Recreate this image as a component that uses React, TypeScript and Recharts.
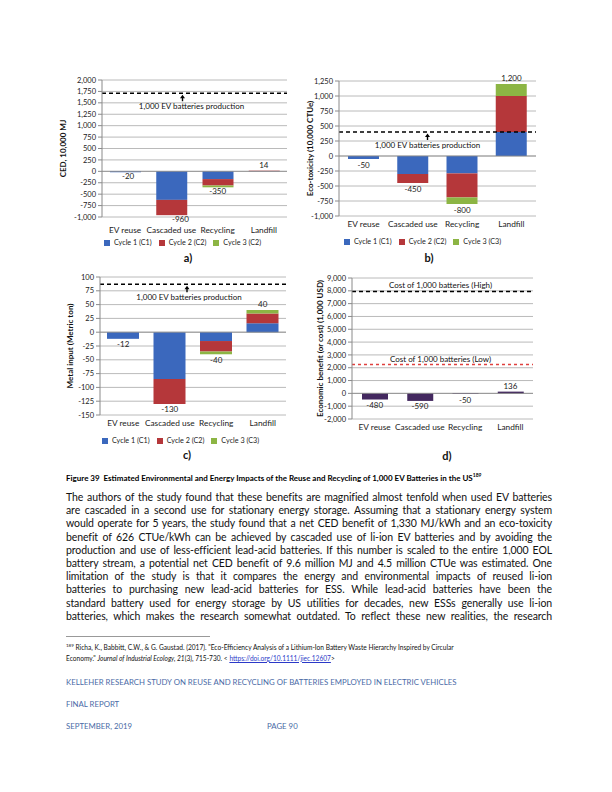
import React from 'react';
import {
  ComposedChart,
  Bar,
  Line,
  XAxis,
  YAxis,
  CartesianGrid,
  ReferenceLine,
  Legend,
  LabelList,
} from 'recharts';

const categories = ['EV reuse', 'Cascaded use', 'Recycling', 'Landfill'];

// a) CED, 10,000 MJ
const cedC1 = [-20, -625, -170, 4];
const cedC2 = [0, -335, -140, 10];
const cedC3 = [0, 0, -40, 0];
const cedTotals = [-20, -960, -350, 14];
const cedTicks = [-1000, -750, -500, -250, 0, 250, 500, 750, 1000, 1250, 1500, 1750, 2000];
const cedProduction = 1710;

// b) Eco-toxicity, 10,000 CTUe
const toxC1 = [-50, -300, -290, 400];
const toxC2 = [0, -150, -400, 600];
const toxC3 = [0, 0, -110, 200];
const toxTotals = [-50, -450, -800, 1200];
const toxTicks = [-1000, -750, -500, -250, 0, 250, 500, 750, 1000, 1250];
const toxProduction = 400;

// c) Metal input, metric ton
const metalC1 = [-12, -85, -16, 16];
const metalC2 = [0, -45, -19, 18];
const metalC3 = [0, 0, -5, 6];
const metalTotals = [-12, -130, -40, 40];
const metalTicks = [-150, -125, -100, -75, -50, -25, 0, 25, 50, 75, 100];
const metalProduction = 87;

// d) Economic benefit (or cost), 1,000 USD
const econValues = [-480, -590, -50, 136];
const econTicks = [-2000, -1000, 0, 1000, 2000, 3000, 4000, 5000, 6000, 7000, 8000, 9000];
const costHigh = 7950;
const costLow = 2250;

const BLUE = '#3b68bd';
const RED = '#b5373a';
const GREEN = '#8cb544';
const PURPLE = '#43285f';
const FONT = 'Lato, "Open Sans", sans-serif';

const fmt = (v: number) => v.toLocaleString('en-US');

const stackRows = (c1: number[], c2: number[], c3: number[], totals: number[]) =>
  categories.map((name, i) => ({ name, c1: c1[i], c2: c2[i], c3: c3[i], total: totals[i] }));

const cedData = stackRows(cedC1, cedC2, cedC3, cedTotals);
const toxData = stackRows(toxC1, toxC2, toxC3, toxTotals);
const metalData = stackRows(metalC1, metalC2, metalC3, metalTotals);
const econData = categories.map((name, i) => ({ name, c1: econValues[i], total: econValues[i] }));

// total value label under (negative) or over (positive) the stack end
const totalLabel = (negOffset: number, shiftX: number[]) => (props: any) => {
  const { x, y, value, index } = props;
  const below = value < 0;
  return (
    <text
      x={x + (shiftX[index] || 0)}
      y={below ? y + negOffset : y - 6}
      textAnchor="middle"
      dominantBaseline="central"
      fontSize={8}
      fontFamily={FONT}
      fill="#222"
    >
      {fmt(value)}
    </text>
  );
};

// dashed production line label: text below, arrow pointing up to the line
const arrowLabel = (dx: number, arrowDx: number) => (props: any) => {
  const { viewBox } = props;
  const cx = viewBox.x + viewBox.width / 2 + dx;
  const y = viewBox.y;
  const ax = cx + arrowDx;
  return (
    <g>
      <line x1={ax} y1={y + 4} x2={ax} y2={y + 8} stroke="#000" strokeWidth={1.4} />
      <polygon points={`${ax - 2.5},${y + 5} ${ax + 2.5},${y + 5} ${ax},${y + 1.5}`} fill="#000" />
      <text x={cx} y={y + 12.5} textAnchor="middle" dominantBaseline="central" fontSize={8} fontFamily={FONT} fill="#111">
        1,000 EV batteries production
      </text>
    </g>
  );
};

const aboveLabel = (text: string, dx: number) => (props: any) => {
  const { viewBox } = props;
  return (
    <text
      x={viewBox.x + viewBox.width / 2 + dx}
      y={viewBox.y - 6}
      textAnchor="middle"
      dominantBaseline="central"
      fontSize={8}
      fontFamily={FONT}
      fill="#111"
    >
      {text}
    </text>
  );
};

type Series = { key: string; name: string; color: string };

type PanelProps = {
  data: any[];
  series: Series[];
  ticks: number[];
  yLabel: string;
  yLabelOffset: number;
  left: number;
  top: number;
  width: number;
  height: number;
  margin: { top: number; right: number; left: number; bottom: number };
  yAxisWidth: number;
  barSize: number;
  legendCenter?: number;
  catTickSize?: number;
  negOffset?: number;
  shiftX?: number[];
  children?: React.ReactNode;
};

function Panel(p: PanelProps) {
  return (
    <div style={{ position: 'absolute', left: p.left, top: p.top }}>
      <ComposedChart width={p.width} height={p.height} data={p.data} margin={p.margin}>
        <CartesianGrid vertical={false} stroke="#a8a8a8" strokeWidth={0.8} />
        <XAxis
          dataKey="name"
          axisLine={false}
          tickLine={false}
          tickSize={p.catTickSize ?? 3}
          height={20}
          tick={{ fontSize: 8.3, fontFamily: FONT, fill: '#222' }}
          interval={0}
        />
        <YAxis
          type="number"
          domain={[p.ticks[0], p.ticks[p.ticks.length - 1]]}
          ticks={p.ticks}
          interval={0}
          width={p.yAxisWidth}
          tickFormatter={fmt}
          axisLine={{ stroke: '#8a8a8a' }}
          tickLine={{ stroke: '#8a8a8a' }}
          tickSize={4}
          tick={{ fontSize: 7.5, fontFamily: FONT, fill: '#222' }}
          label={{
            value: p.yLabel,
            angle: -90,
            position: 'insideLeft',
            offset: p.yLabelOffset,
            style: { textAnchor: 'middle', fontSize: 8, fontWeight: 700, fontFamily: FONT, fill: '#111' },
          }}
        />
        <ReferenceLine y={0} stroke="#8a8a8a" strokeWidth={0.8} />
        {p.series.map((s) => (
          <Bar
            key={s.key}
            dataKey={s.key}
            name={s.name}
            stackId="a"
            fill={s.color}
            barSize={p.barSize}
            isAnimationActive={false}
          />
        ))}
        <Line
          dataKey="total"
          stroke="none"
          dot={false}
          activeDot={false}
          legendType="none"
          isAnimationActive={false}
        >
          <LabelList dataKey="total" content={totalLabel(p.negOffset ?? 5.5, p.shiftX ?? [])} />
        </Line>
        {p.children}
        {p.legendCenter !== undefined && (
          <Legend
            verticalAlign="bottom"
            iconType="square"
            iconSize={6}
            formatter={(value: any) => <span style={{ color: '#222' }}>{value}</span>}
            wrapperStyle={{
              left: p.legendCenter - 90,
              width: 180,
              textAlign: 'center',
              fontSize: 7.2,
              fontFamily: FONT,
              lineHeight: '12px',
            }}
          />
        )}
      </ComposedChart>
    </div>
  );
}

const seriesA: Series[] = [
  { key: 'c1', name: 'Cycle 1 (C1)', color: BLUE },
  { key: 'c2', name: 'Cycle 2 (C2)', color: RED },
  { key: 'c3', name: 'Cycle 3 (C2)', color: GREEN },
];
const seriesBC: Series[] = [
  { key: 'c1', name: 'Cycle 1 (C1)', color: BLUE },
  { key: 'c2', name: 'Cycle 2 (C2)', color: RED },
  { key: 'c3', name: 'Cycle 3 (C3)', color: GREEN },
];
const seriesD: Series[] = [{ key: 'c1', name: 'Economic benefit', color: PURPLE }];

const bodyLines = [
  'The authors of the study found that these benefits are magnified almost tenfold when used EV batteries',
  'are cascaded in a second use for stationary energy storage. Assuming that a stationary energy system',
  'would operate for 5 years,  the study found that a net CED benefit of 1,330 MJ/kWh and an eco-toxicity',
  'benefit of 626 CTUe/kWh  can be achieved by cascaded use of li-ion EV batteries and by avoiding the',
  'production and use of less-efficient lead-acid  batteries. If this number is scaled to the entire 1,000 EOL',
  'battery stream, a potential net CED benefit of 9.6 million MJ and 4.5 million CTUe was estimated. One',
  'limitation of the study is that it compares the  energy and environmental impacts of reused li-ion',
  'batteries to purchasing new lead-acid batteries for  ESS. While lead-acid batteries have been the',
  'standard battery used for energy storage by US utilities for decades, new ESSs generally use li-ion',
  'batteries, which makes the research somewhat outdated. To reflect these new realities, the research',
];

const footerBlue = '#4a6aa6';

export default function App() {
  return (
    <div style={{ position: 'relative', width: 612, height: 792, background: '#fff', fontFamily: FONT, overflow: 'hidden' }}>
      <style>{'body{margin:0} .recharts-legend-item{margin-right:7px !important}'}</style>

      <Panel
        data={cedData}
        series={seriesA}
        ticks={cedTicks}
        yLabel="CED, 10,000 MJ"
        yLabelOffset={13}
        left={50}
        top={70}
        width={245}
        height={184}
        margin={{ top: 10, right: 8, left: 0, bottom: 5 }}
        yAxisWidth={52}
        barSize={31}
        legendCenter={136}
        catTickSize={8}
        negOffset={4}
        shiftX={[3, 9, 0, 0]}
      >
        <ReferenceLine
          y={cedProduction}
          stroke="#000"
          strokeWidth={1.4}
          strokeDasharray="4 3"
          label={arrowLabel(-3, -9)}
        />
      </Panel>

      <Panel
        data={toxData}
        series={seriesBC}
        ticks={toxTicks}
        yLabel="Eco-toxicity (10,000 CTUe)"
        yLabelOffset={10}
        left={300}
        top={70}
        width={244}
        height={183}
        margin={{ top: 11, right: 8, left: 0, bottom: 5 }}
        yAxisWidth={39}
        barSize={31}
        legendCenter={126}
      >
        <ReferenceLine
          y={toxProduction}
          stroke="#000"
          strokeWidth={1.4}
          strokeDasharray="4 3"
          label={arrowLabel(-10, 0)}
        />
      </Panel>

      <Panel
        data={metalData}
        series={seriesBC}
        ticks={metalTicks}
        yLabel="Metal input (Metric ton)"
        yLabelOffset={20}
        left={50}
        top={265}
        width={244}
        height={187}
        margin={{ top: 12, right: 8, left: 0, bottom: 5 }}
        yAxisWidth={50}
        barSize={32}
        legendCenter={134}
      >
        <ReferenceLine
          y={metalProduction}
          stroke="#000"
          strokeWidth={1.4}
          strokeDasharray="4 3"
          label={arrowLabel(-4, -2)}
        />
      </Panel>

      <Panel
        data={econData}
        series={seriesD}
        ticks={econTicks}
        yLabel="Economic benefit (or cost) (1,000 USD)"
        yLabelOffset={20}
        left={300}
        top={265}
        width={240}
        height={180}
        margin={{ top: 13, right: 7, left: 0, bottom: 6 }}
        yAxisWidth={52}
        barSize={26}
      >
        <ReferenceLine
          y={costHigh}
          stroke="#000"
          strokeWidth={1.4}
          strokeDasharray="4 3"
          label={aboveLabel('Cost of 1,000 batteries (High)', -2)}
        />
        <ReferenceLine
          y={costLow}
          stroke="#e0403f"
          strokeWidth={1.6}
          strokeDasharray="3 3"
          label={aboveLabel('Cost of 1,000 batteries (Low)', -2)}
        />
      </Panel>

      {/* panel letters */}
      {[
        { t: 'a)', x: 188, y: 258 },
        { t: 'b)', x: 429, y: 258 },
        { t: 'c)', x: 187, y: 455 },
        { t: 'd)', x: 447, y: 456 },
      ].map((l) => (
        <div
          key={l.t}
          style={{
            position: 'absolute',
            left: l.x - 20,
            top: l.y - 7,
            width: 40,
            textAlign: 'center',
            fontSize: 11,
            fontWeight: 700,
            lineHeight: '14px',
            color: '#111',
          }}
        >
          {l.t}
        </div>
      ))}

      {/* caption */}
      <div style={{ position: 'absolute', left: 66, top: 469, fontSize: 8, fontWeight: 700, lineHeight: '12px', whiteSpace: 'nowrap', color: '#000' }}>
        Figure 39&nbsp; Estimated Environmental and Energy Impacts of the Reuse and Recycling of 1,000 EV Batteries in the US
        <sup style={{ fontSize: 5 }}>189</sup>
      </div>

      {/* body text */}
      <div style={{ position: 'absolute', left: 66, top: 491, width: 486 }}>
        {bodyLines.map((line, i) => (
          <div
            key={i}
            style={{
              fontSize: 10.5,
              lineHeight: '13.2px',
              height: 13.2,
              whiteSpace: 'nowrap',
              textAlign: 'justify',
              textAlignLast: 'justify',
              color: '#111',
              letterSpacing: -0.1,
            }}
          >
            {line}
          </div>
        ))}
      </div>

      {/* footnote */}
      <div style={{ position: 'absolute', left: 66, top: 636, width: 144, height: 1, background: '#999' }} />
      <div style={{ position: 'absolute', left: 66, top: 641, width: 450, fontSize: 6.6, lineHeight: '10.5px', color: '#111' }}>
        <div style={{ whiteSpace: 'nowrap' }}>
          <sup style={{ fontSize: 4.5 }}>189</sup> Richa, K., Babbitt, C.W., &amp; G. Gaustad. (2017). "Eco-Efficiency Analysis of a Lithium-Ion Battery Waste Hierarchy Inspired by Circular
        </div>
        <div style={{ whiteSpace: 'nowrap' }}>
          Economy." <i>Journal of Industrial Ecology, 21</i>(3), 715-730. &lt;{' '}
          <span style={{ color: '#2b39c8', textDecoration: 'underline' }}>https://doi.org/10.1111/jiec.12607</span>&gt;
        </div>
      </div>

      {/* footer */}
      <div style={{ position: 'absolute', left: 66, top: 677, fontSize: 7.8, lineHeight: '10px', color: footerBlue, whiteSpace: 'nowrap' }}>
        KELLEHER RESEARCH STUDY ON REUSE AND RECYCLING OF BATTERIES EMPLOYED IN ELECTRIC VEHICLES
      </div>
      <div style={{ position: 'absolute', left: 66, top: 699, fontSize: 7.8, lineHeight: '10px', color: footerBlue }}>FINAL REPORT</div>
      <div style={{ position: 'absolute', left: 66, top: 721, fontSize: 7.8, lineHeight: '10px', color: footerBlue }}>SEPTEMBER, 2019</div>
      <div style={{ position: 'absolute', left: 267, top: 721, fontSize: 7.8, lineHeight: '10px', color: footerBlue }}>PAGE 90</div>
    </div>
  );
}
